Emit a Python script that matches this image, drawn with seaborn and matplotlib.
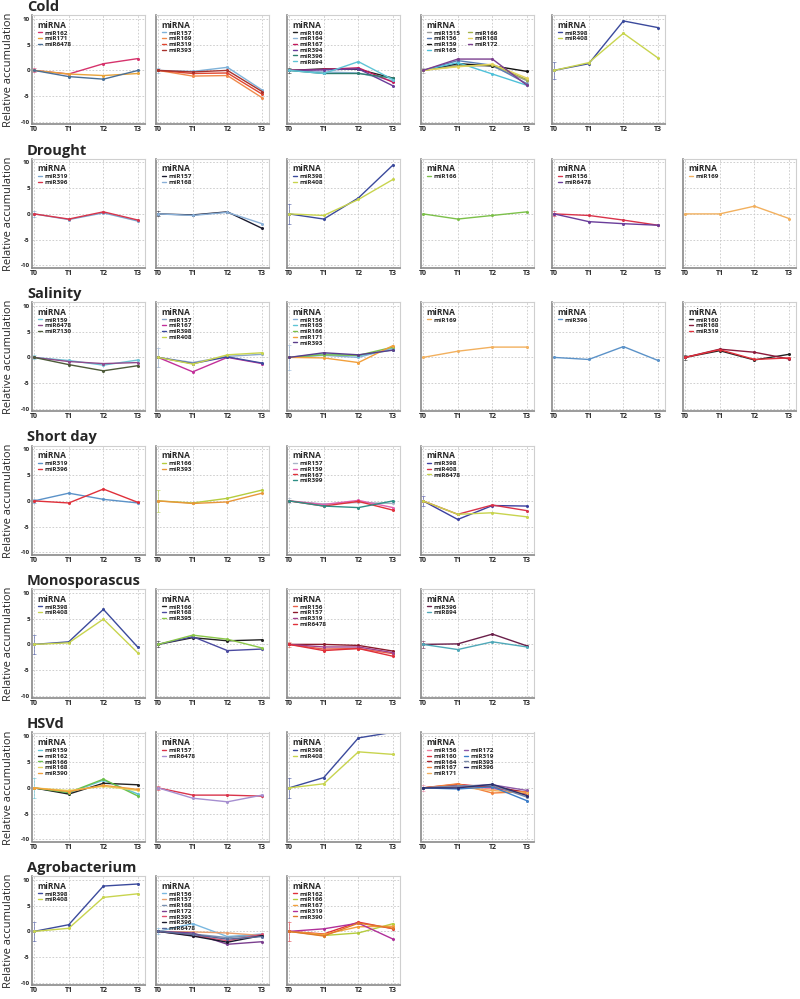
import pandas as pd
import matplotlib.pyplot as plt
import seaborn as sns

times = ["T0", "T1", "T2", "T3"]
row_titles = ["Cold", "Drought", "Salinity", "Short day", "Monosporascus", "HSVd", "Agrobacterium"]

# Cold
cold_1 = {"miR162": [0, -0.7, 1.3, 2.3], "miR171": [0, -0.7, -1.0, -0.6], "miR6478": [0, -1.2, -1.7, 0.0]}
cold_2 = {"miR157": [0, -0.2, 0.6, -3.8], "miR169": [0, -1.1, -1.0, -5.3],
          "miR319": [0, -0.6, -0.5, -4.6], "miR393": [0, -0.3, 0.0, -4.1]}
cold_3 = {"miR160": [0, 0.3, 0.2, -1.5], "miR164": [0, -0.3, -0.5, -2.0], "miR167": [0, 0.2, 0.5, -2.3],
          "miR394": [0, 0.1, 0.3, -3.0], "miR396": [0, -0.6, -0.6, -1.5], "miR894": [0, -0.6, 1.7, -1.8]}
cold_4 = {"miR1515": [0, 1.0, 0.8, -2.0], "miR156": [0, 1.9, 1.0, -2.6], "miR159": [0, 1.3, 0.9, -0.2],
          "miR165": [0, 1.5, -0.7, -2.9], "miR166": [0, 0.8, 1.1, -1.8], "miR168": [0, 0.7, 1.2, -1.5],
          "miR172": [0, 2.2, 2.2, -2.9]}
cold_5 = {"miR398": [0, 1.3, 9.6, 8.3], "miR408": [0, 1.5, 7.2, 2.4]}

# Drought
drought_1 = {"miR319": [0, -1.1, 0.2, -1.4], "miR396": [0, -1.0, 0.4, -1.2]}
drought_2 = {"miR157": [0, -0.2, 0.4, -2.8], "miR168": [0, -0.3, 0.3, -1.9]}
drought_3 = {"miR398": [0, -1.0, 3.1, 9.5], "miR408": [0, -0.3, 2.8, 6.7]}
drought_4 = {"miR166": [0, -1.0, -0.3, 0.4]}
drought_5 = {"miR156": [0, -0.3, -1.2, -2.2], "miR6478": [0, -1.5, -1.9, -2.2]}
drought_6 = {"miR169": [0, 0.0, 1.5, -0.9]}

# Salinity
salinity_1 = {"miR159": [0, -0.6, -1.5, -0.5], "miR6478": [0, -0.8, -1.2, -1.0], "miR7130": [0, -1.4, -2.6, -1.6]}
salinity_2 = {"miR157": [0, -1.0, 0.2, 0.6], "miR167": [0, -2.8, 0.0, -1.2],
              "miR398": [0, -1.2, 0.1, -1.1], "miR408": [0, -1.3, 0.5, 0.9]}
salinity_3 = {"miR156": [0, 0.4, 0.0, 1.8], "miR165": [0, 0.7, 0.3, 1.5], "miR166": [0, 0.5, 0.4, 2.0],
              "miR171": [0, -0.1, -1.0, 2.3], "miR393": [0, 0.9, 0.5, 1.4]}
salinity_4 = {"miR169": [0, 1.2, 2.0, 2.0]}
salinity_5 = {"miR396": [0, -0.4, 2.1, -0.6]}
salinity_6 = {"miR160": [0, 1.3, -0.5, 0.6], "miR168": [0, 1.6, 1.0, -0.3], "miR319": [0, 1.5, -0.4, -0.1]}

# Short day
short_1 = {"miR319": [0, 1.5, 0.3, -0.4], "miR396": [0, -0.4, 2.3, -0.3]}
short_2 = {"miR166": [0, -0.4, 0.5, 2.1], "miR393": [0, -0.5, -0.2, 1.5]}
short_3 = {"miR157": [0, -0.6, -0.3, -0.5], "miR159": [0, -0.7, 0.1, -1.3],
           "miR167": [0, -1.0, -0.1, -1.8], "miR399": [0, -1.0, -1.3, 0.0]}
short_4 = {"miR398": [0, -3.6, -0.9, -1.0], "miR408": [0, -2.6, -0.8, -1.9], "miR6478": [0, -2.6, -2.3, -3.1]}

# Monosporascus
mono_1 = {"miR398": [0, 0.5, 6.8, -0.6], "miR408": [0, 0.3, 4.9, -1.7]}
mono_2 = {"miR166": [0, 1.3, 0.7, 0.9], "miR168": [0, 1.5, -1.2, -0.9], "miR395": [0, 1.8, 1.0, -0.7]}
mono_3 = {"miR156": [0, -0.9, -0.8, -1.8], "miR157": [0, 0.0, -0.2, -1.3],
          "miR319": [0, -0.5, -0.5, -1.6], "miR6478": [0, -1.2, -0.8, -2.3]}
mono_4 = {"miR396": [0, 0.1, 2.0, -0.3], "miR894": [0, -1.0, 0.5, -0.5]}

# HSVd
hsvd_1 = {"miR159": [0, -1.0, 1.5, -1.2], "miR162": [0, -1.2, 0.9, 0.6], "miR166": [0, -0.9, 1.7, -1.6],
          "miR168": [0, -0.5, 0.3, -0.5], "miR390": [0, -0.7, 0.5, -0.3]}
hsvd_2 = {"miR157": [0, -1.4, -1.4, -1.6], "miR6478": [0, -2.0, -2.7, -1.4]}
hsvd_3 = {"miR398": [0, 2.0, 9.7, 10.8], "miR408": [0, 0.8, 7.0, 6.5]}
hsvd_4 = {"miR156": [0, 0.5, -0.2, -0.8], "miR160": [0, 0.7, 0.1, -1.2], "miR164": [0, 0.5, 0.3, -0.9],
          "miR167": [0, 0.8, -1.0, -0.7], "miR171": [0, 0.2, -0.5, -1.0], "miR172": [0, 0.3, 0.6, -0.5],
          "miR319": [0, -0.2, 0.2, -2.5], "miR393": [0, 0.4, 0.5, -1.8], "miR396": [0, 0.0, 0.7, -1.5]}

# Agrobacterium
agro_1 = {"miR398": [0, 1.3, 8.8, 9.2], "miR408": [0, 0.6, 6.6, 7.3]}
agro_2 = {"miR156": [0, 1.5, -1.0, -0.5], "miR157": [0, -0.1, -0.3, -0.8], "miR168": [0, -0.5, -1.2, -0.7],
          "miR172": [0, -0.3, -2.5, -2.0], "miR393": [0, -0.8, -1.8, -0.6], "miR396": [0, -0.9, -2.1, -0.8],
          "miR6478": [0, -0.6, -1.5, -1.0]}
agro_3 = {"miR162": [0, -0.5, 1.8, 0.5], "miR166": [0, -0.8, -0.3, 1.5], "miR167": [0, -0.6, 0.9, 1.0],
          "miR319": [0, 0.5, 1.6, -1.5], "miR390": [0, -0.9, 1.6, 0.6]}

panels = [
    [cold_1, cold_2, cold_3, cold_4, cold_5],
    [drought_1, drought_2, drought_3, drought_4, drought_5, drought_6],
    [salinity_1, salinity_2, salinity_3, salinity_4, salinity_5, salinity_6],
    [short_1, short_2, short_3, short_4],
    [mono_1, mono_2, mono_3, mono_4],
    [hsvd_1, hsvd_2, hsvd_3, hsvd_4],
    [agro_1, agro_2, agro_3],
]

# spread of the first miRNA at T0 (error bar half-height)
t0_err = [
    [0.4, 0.5, 0.5, 0.5, 1.6],
    [0.6, 0.5, 2.0, 0.0, 0.5, 0.0],
    [0.4, 1.8, 2.4, 0.0, 0.0, 0.5],
    [0.4, 2.2, 0.5, 1.0],
    [1.9, 0.6, 0.5, 0.7],
    [1.9, 0.4, 2.0, 0.6],
    [1.9, 0.6, 1.8],
]

# line colours, same order as the miRNAs of each panel
BLUE398, YEL408 = "#3b4a9c", "#c8d44e"
colors = [
    [["#d6336c", "#e8a33a", "#4a6f96"],
     ["#7fb2d9", "#f08a4b", "#e0452f", "#a8322d"],
     ["#222222", "#8fb6d8", "#c2185b", "#6a3d9a", "#2e7d6f", "#5fc4d6"],
     ["#999999", "#5b7fb5", "#111111", "#4fc1d9", "#a4b24a", "#e5d45e", "#7b3f8f"],
     [BLUE398, YEL408]],
    [["#7aa6d0", "#d9334a"], ["#1a1a2e", "#8ab0d8"], [BLUE398, YEL408],
     ["#7cc04a"], ["#d9334a", "#6a3d9a"], ["#f2b05e"]],
    [["#6cc3d5", "#8e4a8c", "#4d5a3a"],
     ["#8aa6c8", "#c2309a", BLUE398, YEL408],
     ["#8ab0d8", "#5fc4d6", "#7cc04a", "#f2a03c", "#5a3d8a"],
     ["#f2b05e"], ["#5b92c8"], ["#222222", "#8b1a3b", "#e0303a"]],
    [["#5b92c8", "#e0303a"], ["#b5cc3e", "#e8963a"],
     ["#aab4c8", "#e060b0", "#e0303a", "#2e8f86"],
     ["#3b3fa0", "#d9334a", YEL408]],
    [[BLUE398, YEL408], ["#222222", "#4a4aa0", "#8cc84a"],
     ["#e8604a", "#8b1a2b", "#a0408c", "#e0303a"], ["#6a1f4a", "#4fa8b8"]],
    [["#5fc4d6", "#222222", "#6cc04a", "#e5d45e", "#f2a03c"], ["#d9334a", "#a68fd0"], [BLUE398, YEL408],
     ["#f080a0", "#e0303a", "#a8222d", "#f2803c", "#f2b05e", "#8e5aa8", "#3b7cc8", "#7a8aa8", "#2b2f6e"]],
    [[BLUE398, YEL408],
     ["#7ab8e0", "#e8a070", "#7a90b0", "#7b3f8f", "#e05070", "#1a1a2e", "#5a6a9a"],
     ["#e0303a", "#b5cc3e", "#f2a03c", "#b0309a", "#e0782a"]],
]

two_col_legends = {(0, 3), (5, 3)}

sns.set_style("whitegrid")
plt.rcParams["font.family"] = ["Open Sans", "DejaVu Sans"]

W, H = 800, 999
fig = plt.figure(figsize=(8, 9.99), dpi=100)
col_left = [32, 156, 287, 421, 552, 683]

for r, (title, row) in enumerate(zip(row_titles, panels)):
    top = 15 + r * 143.5
    fig.text(27 / W, 1 - (top - 4) / H, title, fontsize=10.5, fontweight="bold", va="baseline")
    fig.text(9 / W, 1 - (top + 55) / H, "Relative accumulation", rotation=90,
             fontsize=8, va="center", ha="center")
    for c, panel in enumerate(row):
        ax = fig.add_axes([col_left[c] / W, 1 - (top + 109) / H, 113 / W, 109 / H])
        df = pd.DataFrame([(k, i, v) for k, vals in panel.items() for i, v in enumerate(vals)],
                          columns=["miRNA", "t", "value"])
        pal = dict(zip(panel.keys(), colors[r][c]))
        sns.lineplot(data=df, x="t", y="value", hue="miRNA", palette=pal, marker="o",
                     markersize=2.2, markeredgewidth=0, linewidth=1.0, ax=ax)
        first = list(panel.keys())[0]
        if t0_err[r][c] > 0:
            ax.errorbar(0, panel[first][0], yerr=t0_err[r][c], color=pal[first], alpha=0.6,
                        lw=0.6, capsize=1.2, capthick=0.6, zorder=1)
        sns.move_legend(ax, "upper left", title="miRNA", ncol=2 if (r, c) in two_col_legends else 1,
                        prop={"size": 4.6, "weight": "bold"},
                        title_fontproperties={"size": 6, "weight": "bold"},
                        frameon=False, handlelength=0.6, handletextpad=0.4, labelspacing=0.05,
                        borderaxespad=0.5, alignment="left", columnspacing=1.2)
        for h in ax.get_legend().legend_handles:
            h.set_marker("")

        ax.set_xlim(-0.06, 3.2)
        ax.set_ylim(-10.4, 10.75)
        ax.set_xticks(range(4))
        ax.set_xticklabels(times, fontsize=5, fontweight="bold")
        ax.set_yticks([-10, -5, 0, 5, 10])
        if c == 0:
            ax.set_yticklabels(["-10", "-5", "0", "5", "10"], fontsize=4.5, fontweight="bold")
        else:
            ax.set_yticklabels([])
        ax.set_xlabel("")
        ax.set_ylabel("")
        ax.tick_params(length=0, pad=1.5)
        ax.grid(True, linestyle=(0, (2, 2)), color="#c8c8c8", linewidth=0.6)
        for side in ["left", "bottom"]:
            ax.spines[side].set_color("#8a8a8a")
            ax.spines[side].set_linewidth(1.2)
        for side in ["top", "right"]:
            ax.spines[side].set_color("#cfcfcf")
            ax.spines[side].set_linewidth(0.8)

fig.savefig("out.png", dpi=100)
